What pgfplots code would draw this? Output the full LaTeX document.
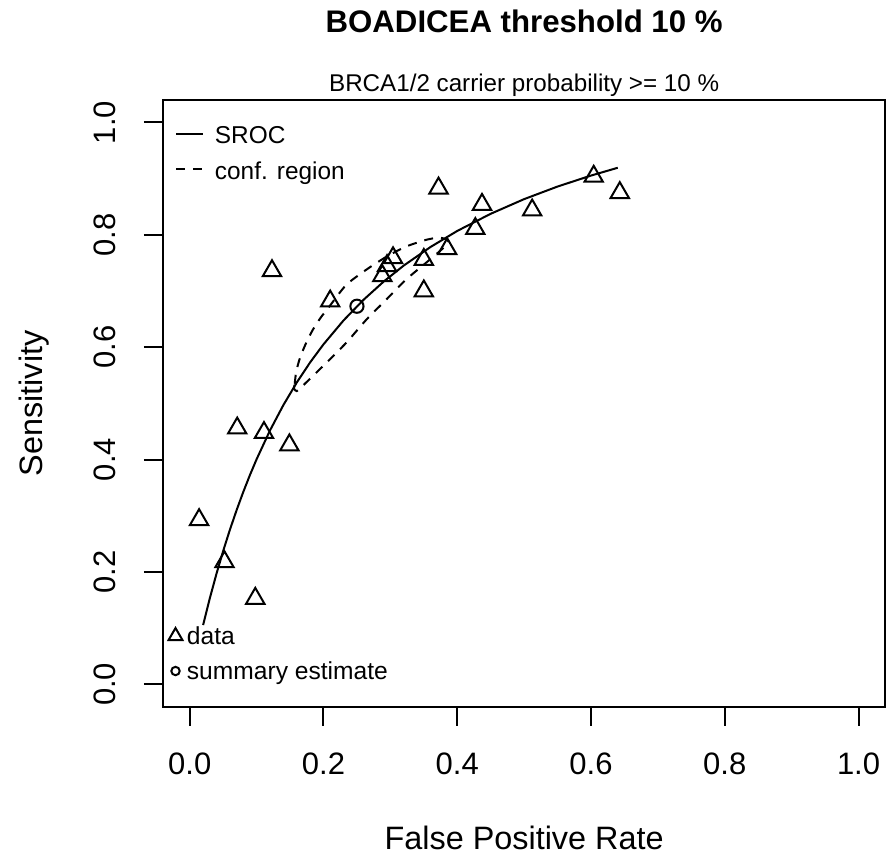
\documentclass[border=0pt]{standalone}
\usepackage{fontspec}
\setmainfont{Liberation Sans}
\usepackage{pgfplots}
\pgfplotsset{compat=1.18}
\usetikzlibrary{calc}

% shared frame: R plot region, usr = [-0.04, 1.04] on both axes
\pgfplotsset{
  rframe/.style={
    width=361.2pt, height=303.5pt, scale only axis,
    xmin=-0.04, xmax=1.04, ymin=-0.04, ymax=1.04,
    clip=false,
  },
}

\begin{document}
\begin{tikzpicture}
\begin{axis}[rframe,
  axis line style={line width=1pt},
  tick style={line width=1pt, black},
  tick align=outside, tick pos=left, major tick length=9.5pt,
  xtick={0,0.2,0.4,0.6,0.8,1}, ytick={0,0.2,0.4,0.6,0.8,1},
  xticklabels={0.0,0.2,0.4,0.6,0.8,1.0},
  yticklabels={0.0,0.2,0.4,0.6,0.8,1.0},
  ticklabel style={font=\fontsize{15.5}{18}\selectfont, inner sep=0pt},
  xticklabel style={anchor=north},
  yticklabel style={rotate=90, anchor=south},
  xticklabel shift=13.5pt, yticklabel shift=14pt,
  legend image code/.code={\draw[#1] (0pt,0pt) -- (13.3pt,0pt);},
  legend cell align=left,
  legend style={draw=none, fill=none, inner sep=0pt,
    at={(0,1)}, anchor=north west, xshift=6pt, yshift=-11.65pt,
    row sep=7.9pt, column sep=5.5pt,
    font=\fontsize{12.2}{14}\selectfont,
    nodes={inner sep=0pt, text height=10pt, text depth=0pt}},
]
\coordinate (ll) at (rel axis cs:0,0);
\coordinate (ur) at (rel axis cs:1,1);

% SROC curve
\addplot[black, line width=1pt] coordinates {
  (0.02,0.1057) (0.03,0.1532) (0.04,0.1970) (0.05,0.2375) (0.06,0.2751)
  (0.07,0.3099) (0.08,0.3424) (0.09,0.3726) (0.10,0.4008) (0.12,0.4520)
  (0.14,0.4971) (0.16,0.5372) (0.18,0.5731) (0.20,0.6052) (0.23,0.6478)
  (0.26,0.6846) (0.29,0.7169) (0.32,0.7454) (0.36,0.7784) (0.40,0.8070)
  (0.45,0.8375) (0.50,0.8636) (0.55,0.8860) (0.60,0.9055) (0.64,0.9194)
};
\addlegendentry{SROC}

% confidence region around the summary estimate
\addplot[black, line width=1pt, dash pattern=on 4.5pt off 4pt, smooth, tension=0.4] coordinates {
  (0.157,0.535) (0.159,0.555) (0.164,0.578) (0.173,0.605) (0.184,0.631)
  (0.196,0.653) (0.209,0.673) (0.234,0.711) (0.264,0.738) (0.294,0.761)
  (0.323,0.779) (0.353,0.791) (0.372,0.795) (0.384,0.792) (0.387,0.787)
  (0.383,0.781) (0.370,0.767) (0.353,0.750) (0.323,0.720) (0.294,0.685)
  (0.264,0.649) (0.234,0.608) (0.204,0.572) (0.179,0.543) (0.166,0.528)
  (0.160,0.522) (0.156,0.526) (0.157,0.535)
};
\addlegendentry{conf. region}

\node[anchor=base, yshift=33.5pt, font=\bfseries\fontsize{15.6}{18}\selectfont]
  at (rel axis cs:0.5,1) {BOADICEA threshold 10 \%};
\node[anchor=base, yshift=4pt, font=\fontsize{12.1}{14}\selectfont]
  at (rel axis cs:0.5,1) {BRCA1/2 carrier probability >= 10 \%};
\node[anchor=base, yshift=-71.5pt, font=\fontsize{16.2}{19}\selectfont]
  at (rel axis cs:0.5,0) {False Positive Rate};
\node[xshift=-60pt, rotate=90, anchor=base, font=\fontsize{16.2}{19}\selectfont]
  at (rel axis cs:0,0.5) {Sensitivity};
\end{axis}

\begin{axis}[rframe, hide axis,
  legend cell align=left,
  legend style={draw=none, fill=none, inner sep=0pt,
    at={(0,0)}, anchor=south west, xshift=2.6pt, yshift=13.5pt,
    row sep=9pt, column sep=2.25pt,
    font=\fontsize{12.3}{14}\selectfont,
    nodes={inner sep=0pt, text height=8.5pt, text depth=0pt}},
]
% study data (FPR, sensitivity)
\addplot[only marks, mark=triangle, mark size=5.3pt,
  mark options={black, line width=1pt}, forget plot] coordinates {
  (0.014,0.293) (0.052,0.218) (0.071,0.456) (0.111,0.448) (0.149,0.426)
  (0.098,0.153) (0.123,0.736) (0.210,0.682) (0.372,0.883) (0.304,0.759)
  (0.288,0.727) (0.295,0.745) (0.350,0.756) (0.350,0.700) (0.385,0.775)
  (0.437,0.854) (0.427,0.811) (0.512,0.844) (0.604,0.904) (0.643,0.875)
};
% summary estimate
\addplot[only marks, mark=o, mark size=3.3pt,
  mark options={black, line width=1pt}, forget plot] coordinates {
  (0.250,0.673)
};
\addlegendimage{legend image code/.code={\draw[black, line width=1pt, mark=triangle, mark size=4pt] plot coordinates {(0pt,0pt)};}}
\addlegendentry{data}
\addlegendimage{legend image code/.code={\draw[black, line width=1pt, mark=o, mark size=2.1pt] plot coordinates {(0pt,0pt)};}}
\addlegendentry{summary estimate}
\end{axis}

\pgfresetboundingbox
\path[use as bounding box] ($(ll)+(-81.5pt,-75pt)$) rectangle ($(ur)+(1.35pt,50pt)$);
\end{tikzpicture}
\end{document}
